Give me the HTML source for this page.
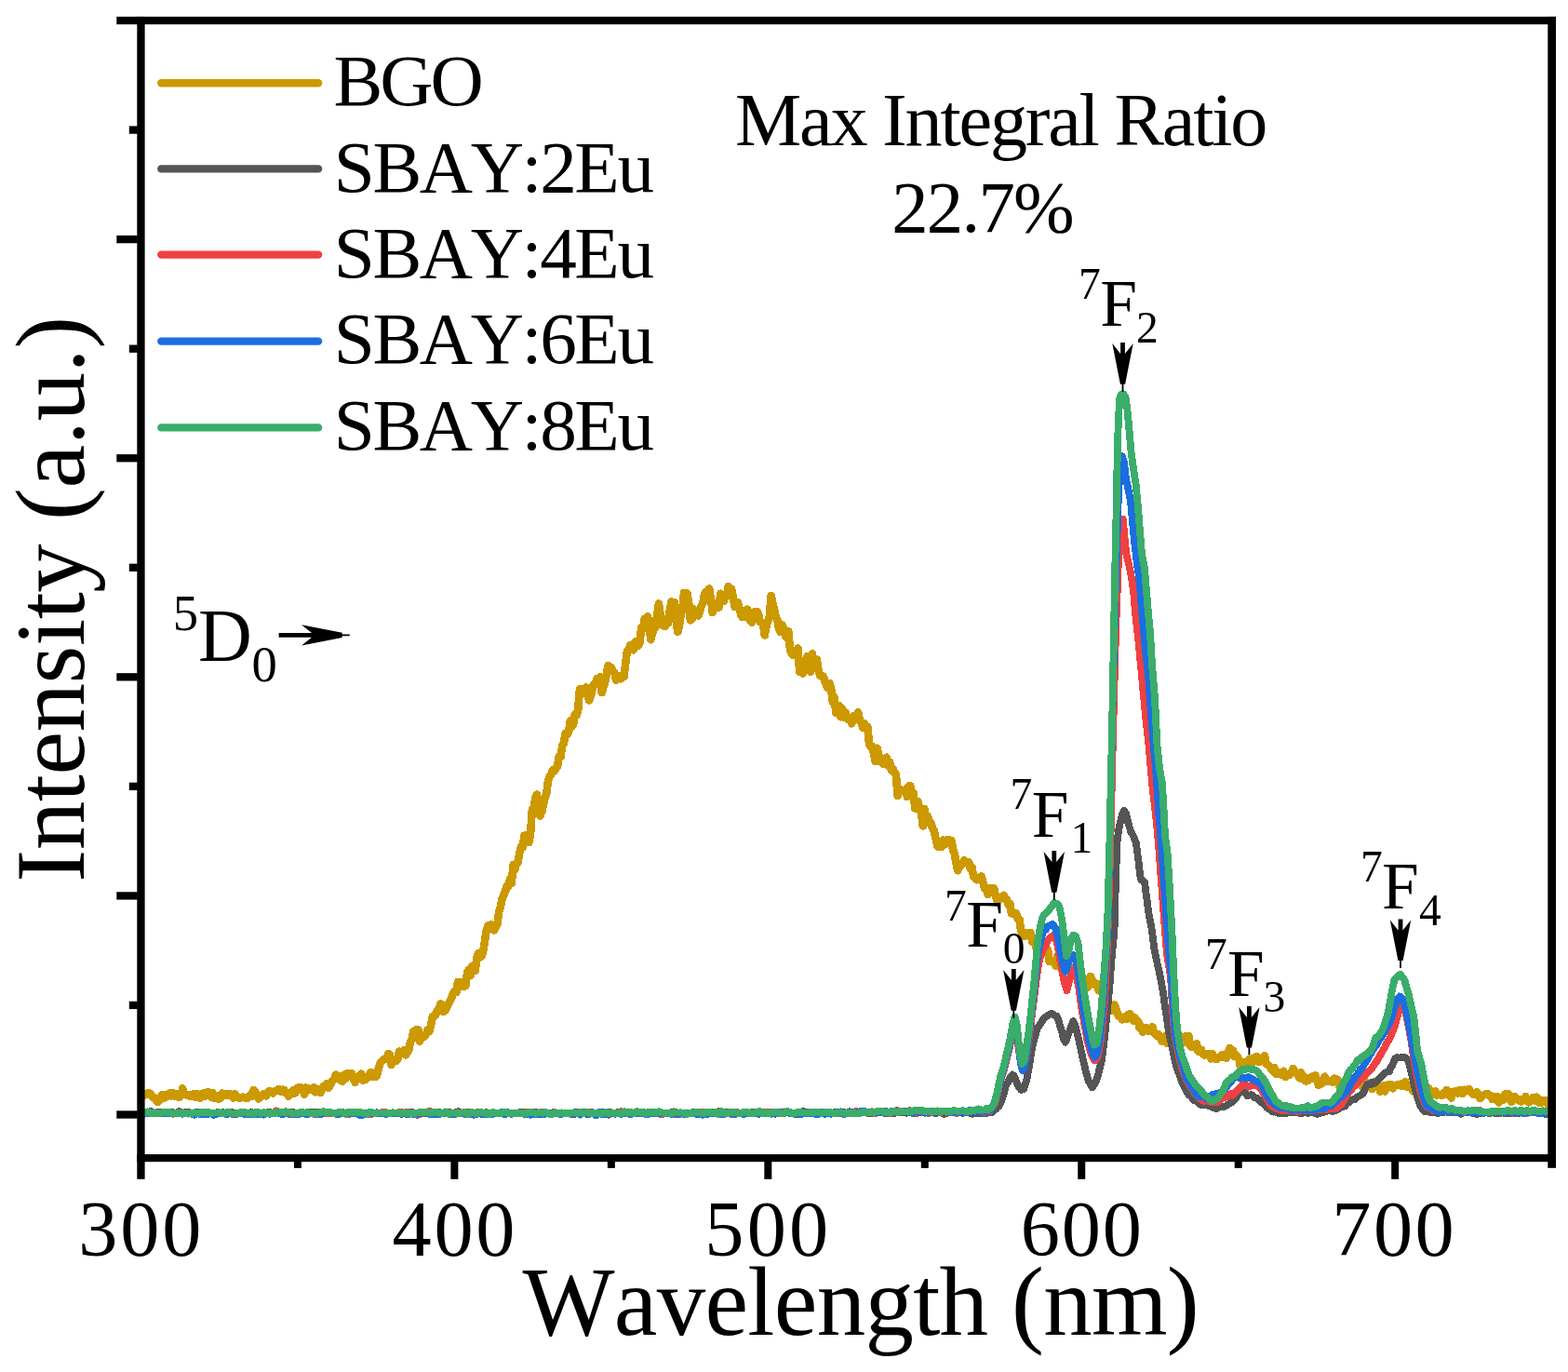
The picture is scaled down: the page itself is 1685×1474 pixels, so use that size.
<!DOCTYPE html>
<html><head><meta charset="utf-8"><title>Emission spectra</title><style>html,body{margin:0;padding:0;background:#fff;width:1685px;height:1474px;overflow:hidden;}svg{display:block;}</style></head><body>
<svg width="1685" height="1474" viewBox="0 0 1685 1474">
<rect width="1685" height="1474" fill="#fff"/>
<g>
<path d="M152.0,1178.0 L153.7,1177.5 L155.4,1176.0 L157.1,1175.5 L158.8,1174.2 L160.5,1174.4 L162.2,1175.7 L163.9,1178.8 L165.6,1178.9 L167.3,1180.7 L169.0,1183.9 L170.7,1183.2 L172.4,1180.2 L174.1,1175.9 L175.8,1179.8 L177.5,1178.9 L179.2,1175.8 L180.9,1177.5 L182.6,1174.3 L184.3,1177.3 L186.0,1174.2 L187.7,1177.9 L189.4,1175.0 L191.1,1178.0 L192.8,1179.1 L194.5,1177.4 L196.2,1169.4 L197.9,1174.5 L199.6,1175.7 L201.3,1176.8 L203.0,1175.9 L204.7,1178.2 L206.4,1175.9 L208.1,1175.3 L209.8,1178.8 L211.5,1175.1 L213.2,1175.7 L214.9,1179.7 L216.6,1176.1 L218.3,1174.5 L220.0,1177.9 L221.7,1176.4 L223.4,1172.9 L225.1,1176.4 L226.8,1178.7 L228.5,1174.1 L230.2,1180.0 L231.9,1179.4 L233.6,1177.5 L235.3,1180.8 L237.0,1179.2 L238.7,1174.6 L240.4,1175.8 L242.1,1176.9 L243.8,1175.0 L245.5,1176.8 L247.2,1175.2 L248.9,1176.8 L250.6,1179.5 L252.3,1175.3 L254.0,1178.7 L255.7,1179.2 L257.4,1179.8 L259.1,1179.3 L260.8,1178.6 L262.5,1178.9 L264.2,1180.1 L265.9,1180.1 L267.6,1177.8 L269.3,1175.7 L271.0,1177.9 L272.7,1171.0 L274.4,1173.0 L276.1,1176.8 L277.8,1180.5 L279.5,1179.0 L281.2,1176.6 L282.9,1175.5 L284.6,1176.9 L286.3,1177.3 L288.0,1173.1 L289.7,1172.1 L291.4,1173.2 L293.1,1174.4 L294.8,1172.4 L296.5,1171.9 L298.2,1171.9 L299.9,1170.0 L301.6,1172.5 L303.3,1170.7 L305.0,1170.8 L306.7,1174.3 L308.4,1173.7 L310.1,1177.7 L311.8,1174.7 L313.5,1174.5 L315.2,1171.1 L316.9,1174.5 L318.6,1169.5 L320.3,1168.4 L322.0,1171.0 L323.7,1168.4 L325.4,1169.8 L327.1,1175.6 L328.8,1168.5 L330.5,1169.1 L332.2,1170.8 L333.9,1170.4 L335.6,1169.6 L337.3,1168.2 L339.0,1173.3 L340.7,1172.7 L342.4,1170.6 L344.1,1174.1 L345.8,1170.8 L347.5,1167.2 L349.2,1168.2 L350.9,1164.3 L352.6,1168.7 L354.3,1166.7 L356.0,1163.2 L357.7,1160.8 L359.4,1158.6 L361.1,1154.6 L362.8,1157.3 L364.5,1159.5 L366.2,1155.8 L367.9,1161.9 L369.6,1154.7 L371.3,1158.8 L373.0,1153.7 L374.7,1154.2 L376.4,1153.1 L378.1,1153.2 L379.8,1159.3 L381.5,1162.8 L383.2,1158.6 L384.9,1156.1 L386.6,1156.9 L388.3,1153.7 L390.0,1160.6 L391.7,1158.2 L393.4,1159.5 L395.1,1157.5 L396.8,1155.5 L398.5,1152.0 L400.2,1156.9 L401.9,1153.9 L403.6,1156.9 L405.3,1154.7 L407.0,1147.0 L408.7,1142.1 L410.4,1140.1 L412.1,1138.0 L413.8,1138.2 L415.5,1138.1 L417.2,1131.9 L418.9,1133.7 L420.6,1143.8 L422.3,1139.4 L424.0,1138.2 L425.7,1139.7 L427.4,1137.8 L429.1,1129.6 L430.8,1132.3 L432.5,1130.5 L434.2,1128.4 L435.9,1133.4 L437.6,1130.7 L439.3,1127.9 L441.0,1119.1 L442.7,1116.6 L444.4,1107.8 L446.1,1109.0 L447.8,1106.1 L449.5,1106.5 L451.2,1118.7 L452.9,1113.6 L454.6,1114.4 L456.3,1113.4 L458.0,1110.4 L459.7,1106.2 L461.4,1108.2 L463.1,1100.9 L464.8,1092.2 L466.5,1091.6 L468.2,1089.9 L469.9,1085.2 L471.6,1085.1 L473.3,1078.4 L475.0,1079.1 L476.7,1087.0 L478.4,1085.7 L480.1,1082.8 L481.8,1078.5 L483.5,1075.8 L485.2,1072.0 L486.9,1067.7 L488.6,1064.6 L490.3,1066.2 L492.0,1055.0 L493.7,1059.8 L495.4,1056.0 L497.1,1054.9 L498.8,1060.0 L500.5,1058.6 L502.2,1044.4 L503.9,1041.7 L505.6,1048.3 L507.3,1037.8 L509.0,1042.6 L510.7,1043.2 L512.4,1028.6 L514.1,1023.9 L515.8,1028.5 L517.5,1027.2 L519.2,1022.1 L520.9,1012.0 L522.6,1000.5 L524.3,994.5 L526.0,996.8 L527.7,993.4 L529.4,993.8 L531.1,999.4 L532.8,995.3 L534.5,992.2 L536.2,979.9 L537.9,974.4 L539.6,965.8 L541.3,961.5 L543.0,957.7 L544.7,951.8 L546.4,951.9 L548.1,944.8 L549.8,948.9 L551.5,929.0 L553.2,934.5 L554.9,927.3 L556.6,926.6 L558.3,916.0 L560.0,909.8 L561.7,910.4 L563.4,897.8 L565.1,897.6 L566.8,900.4 L568.5,905.0 L570.2,893.7 L571.9,869.4 L573.6,867.6 L575.3,857.0 L577.0,853.6 L578.7,868.0 L580.4,876.5 L582.1,872.6 L583.8,865.2 L585.5,856.8 L587.2,852.5 L588.9,839.6 L590.6,834.6 L592.3,832.2 L594.0,827.3 L595.7,828.5 L597.4,825.2 L599.1,823.4 L600.8,812.4 L602.5,813.2 L604.2,801.2 L605.9,798.2 L607.6,788.2 L609.3,789.6 L611.0,786.8 L612.7,774.4 L614.4,780.6 L616.1,778.6 L617.8,767.4 L619.5,768.7 L621.2,762.6 L622.9,740.5 L624.6,746.2 L626.3,740.0 L628.0,740.4 L629.7,738.4 L631.4,746.2 L633.1,752.4 L634.8,748.1 L636.5,740.1 L638.2,735.0 L639.9,734.2 L641.6,729.1 L643.3,732.2 L645.0,727.1 L646.7,744.2 L648.4,738.2 L650.1,733.4 L651.8,724.1 L653.5,715.0 L655.2,718.3 L656.9,717.4 L658.6,721.5 L660.3,722.4 L662.0,730.6 L663.7,727.8 L665.4,726.3 L667.1,729.4 L668.8,726.3 L670.5,727.1 L672.2,712.9 L673.9,699.2 L675.6,697.9 L677.3,693.3 L679.0,695.0 L680.7,698.3 L682.4,689.6 L684.1,691.5 L685.8,693.8 L687.5,691.0 L689.2,674.1 L690.9,675.7 L692.6,665.1 L694.3,670.0 L696.0,662.2 L697.7,673.0 L699.4,687.3 L701.1,680.1 L702.8,676.2 L704.5,673.8 L706.2,660.4 L707.9,648.5 L709.6,660.2 L711.3,671.6 L713.0,664.5 L714.7,673.2 L716.4,669.3 L718.1,669.0 L719.8,655.8 L721.5,646.4 L723.2,651.8 L724.9,646.9 L726.6,667.6 L728.3,678.9 L730.0,672.4 L731.7,660.5 L733.4,653.7 L735.1,636.9 L736.8,636.8 L738.5,637.6 L740.2,648.4 L741.9,666.3 L743.6,665.1 L745.3,654.3 L747.0,660.4 L748.7,661.0 L750.4,661.5 L752.1,656.6 L753.8,650.8 L755.5,647.2 L757.2,637.7 L758.9,636.0 L760.6,635.0 L762.3,632.4 L764.0,644.5 L765.7,658.0 L767.4,653.5 L769.1,651.5 L770.8,648.0 L772.5,652.6 L774.2,637.8 L775.9,641.7 L777.6,645.8 L779.3,641.9 L781.0,640.9 L782.7,629.8 L784.4,631.8 L786.1,633.0 L787.8,641.3 L789.5,651.9 L791.2,649.2 L792.9,647.4 L794.6,653.9 L796.3,660.7 L798.0,663.1 L799.7,658.5 L801.4,656.9 L803.1,654.6 L804.8,664.0 L806.5,667.3 L808.2,668.6 L809.9,657.7 L811.6,659.5 L813.3,656.9 L815.0,659.5 L816.7,668.2 L818.4,668.5 L820.1,670.2 L821.8,682.3 L823.5,672.5 L825.2,667.0 L826.9,662.5 L828.6,640.0 L830.3,647.7 L832.0,654.5 L833.7,663.1 L835.4,666.5 L837.1,675.7 L838.8,679.0 L840.5,671.4 L842.2,674.5 L843.9,683.4 L845.6,685.1 L847.3,678.3 L849.0,698.4 L850.7,702.1 L852.4,703.8 L854.1,700.6 L855.8,701.5 L857.5,696.5 L859.2,721.7 L860.9,710.1 L862.6,723.5 L864.3,709.4 L866.0,714.3 L867.7,704.8 L869.4,710.6 L871.1,721.6 L872.8,702.5 L874.5,713.3 L876.2,709.9 L877.9,708.7 L879.6,720.6 L881.3,725.8 L883.0,726.3 L884.7,726.5 L886.4,731.7 L888.1,736.5 L889.8,739.3 L891.5,733.9 L893.2,740.6 L894.9,754.5 L896.6,749.1 L898.3,765.8 L900.0,765.1 L901.7,757.8 L903.4,770.3 L905.1,761.0 L906.8,770.5 L908.5,765.6 L910.2,771.2 L911.9,773.5 L913.6,773.3 L915.3,777.3 L917.0,769.5 L918.7,772.9 L920.4,768.7 L922.1,765.2 L923.8,772.9 L925.5,776.3 L927.2,781.6 L928.9,777.3 L930.6,783.3 L932.3,780.7 L934.0,799.0 L935.7,802.3 L937.4,802.1 L939.1,809.9 L940.8,818.2 L942.5,803.8 L944.2,809.9 L945.9,818.4 L947.6,815.2 L949.3,820.7 L951.0,814.9 L952.7,813.7 L954.4,822.5 L956.1,818.7 L957.8,827.6 L959.5,825.9 L961.2,829.6 L962.9,832.6 L964.6,855.0 L966.3,849.2 L968.0,848.2 L969.7,849.2 L971.4,850.5 L973.1,848.4 L974.8,855.9 L976.5,844.7 L978.2,844.1 L979.9,852.1 L981.6,851.9 L983.3,868.5 L985.0,866.9 L986.7,861.2 L988.4,870.3 L990.1,874.2 L991.8,887.4 L993.5,869.2 L995.2,884.2 L996.9,876.7 L998.6,881.6 L1000.3,884.1 L1002.0,889.5 L1003.7,892.3 L1005.4,899.9 L1007.1,908.3 L1008.8,910.1 L1010.5,907.0 L1012.2,909.5 L1013.9,902.5 L1015.6,907.2 L1017.3,903.2 L1019.0,901.9 L1020.7,906.8 L1022.4,903.1 L1024.1,912.9 L1025.8,917.5 L1027.5,927.4 L1029.2,935.3 L1030.9,928.8 L1032.6,930.1 L1034.3,928.2 L1036.0,924.0 L1037.7,927.0 L1039.4,926.5 L1041.1,926.3 L1042.8,933.3 L1044.5,931.9 L1046.2,941.9 L1047.9,942.0 L1049.6,945.3 L1051.3,944.2 L1053.0,942.5 L1054.7,941.6 L1056.4,947.9 L1058.1,954.5 L1059.8,953.8 L1061.5,961.0 L1063.2,955.4 L1064.9,954.0 L1066.6,957.3 L1068.3,954.5 L1070.0,963.4 L1071.7,967.5 L1073.4,965.7 L1075.1,965.5 L1076.8,963.9 L1078.5,961.8 L1080.2,964.7 L1081.9,966.2 L1083.6,972.1 L1085.3,970.6 L1087.0,981.4 L1088.7,980.7 L1090.4,982.1 L1092.1,981.2 L1093.8,987.2 L1095.5,987.6 L1097.2,1000.2 L1098.9,1002.6 L1100.6,1006.2 L1102.3,1002.5 L1104.0,1002.3 L1105.7,1005.1 L1107.4,1002.2 L1109.1,1011.3 L1110.8,1012.7 L1112.5,1008.3 L1114.2,1022.6 L1115.9,1021.4 L1117.6,1020.0 L1119.3,1018.5 L1121.0,1012.7 L1122.7,1023.9 L1124.4,1022.1 L1126.1,1020.7 L1127.8,1033.1 L1129.5,1031.8 L1131.2,1032.2 L1132.9,1034.0 L1134.6,1037.8 L1136.3,1027.2 L1138.0,1034.0 L1139.7,1037.6 L1141.4,1042.4 L1143.1,1040.0 L1144.8,1036.2 L1146.5,1034.9 L1148.2,1035.9 L1149.9,1039.7 L1151.6,1043.7 L1153.3,1045.4 L1155.0,1049.0 L1156.7,1043.6 L1158.4,1046.0 L1160.1,1048.2 L1161.8,1051.6 L1163.5,1060.4 L1165.2,1060.5 L1166.9,1059.7 L1168.6,1061.1 L1170.3,1052.3 L1172.0,1048.9 L1173.7,1055.7 L1175.4,1054.9 L1177.1,1058.4 L1178.8,1056.7 L1180.5,1063.6 L1182.2,1065.1 L1183.9,1064.8 L1185.6,1063.9 L1187.3,1072.9 L1189.0,1081.4 L1190.7,1084.5 L1192.4,1082.5 L1194.1,1084.1 L1195.8,1085.7 L1197.5,1079.3 L1199.2,1083.7 L1200.9,1089.0 L1202.6,1092.1 L1204.3,1092.5 L1206.0,1095.3 L1207.7,1094.4 L1209.4,1092.0 L1211.1,1094.8 L1212.8,1089.7 L1214.5,1089.4 L1216.2,1093.5 L1217.9,1096.8 L1219.6,1093.5 L1221.3,1096.6 L1223.0,1097.0 L1224.7,1104.6 L1226.4,1103.2 L1228.1,1108.8 L1229.8,1104.5 L1231.5,1104.4 L1233.2,1104.5 L1234.9,1107.9 L1236.6,1107.7 L1238.3,1103.1 L1240.0,1109.6 L1241.7,1110.7 L1243.4,1113.2 L1245.1,1111.2 L1246.8,1114.3 L1248.5,1118.5 L1250.2,1115.8 L1251.9,1113.5 L1253.6,1120.6 L1255.3,1115.3 L1257.0,1120.6 L1258.7,1115.7 L1260.4,1113.4 L1262.1,1119.3 L1263.8,1116.5 L1265.5,1121.8 L1267.2,1119.8 L1268.9,1115.6 L1270.6,1119.8 L1272.3,1113.8 L1274.0,1119.4 L1275.7,1112.9 L1277.4,1113.1 L1279.1,1123.9 L1280.8,1125.1 L1282.5,1124.7 L1284.2,1122.7 L1285.9,1121.3 L1287.6,1129.5 L1289.3,1130.1 L1291.0,1127.9 L1292.7,1132.1 L1294.4,1133.4 L1296.1,1131.9 L1297.8,1131.9 L1299.5,1133.3 L1301.2,1137.3 L1302.9,1132.0 L1304.6,1136.8 L1306.3,1137.9 L1308.0,1137.7 L1309.7,1135.6 L1311.4,1136.0 L1313.1,1133.2 L1314.8,1135.5 L1316.5,1132.9 L1318.2,1136.7 L1319.9,1129.9 L1321.6,1126.0 L1323.3,1129.0 L1325.0,1128.9 L1326.7,1134.9 L1328.4,1133.5 L1330.1,1135.7 L1331.8,1139.0 L1333.5,1149.6 L1335.2,1145.4 L1336.9,1141.6 L1338.6,1144.9 L1340.3,1146.1 L1342.0,1138.4 L1343.7,1138.8 L1345.4,1141.6 L1347.1,1136.6 L1348.8,1138.2 L1350.5,1134.9 L1352.2,1140.8 L1353.9,1141.0 L1355.6,1138.3 L1357.3,1139.3 L1359.0,1134.2 L1360.7,1142.9 L1362.4,1143.9 L1364.1,1145.8 L1365.8,1147.8 L1367.5,1150.4 L1369.2,1146.9 L1370.9,1153.7 L1372.6,1153.4 L1374.3,1152.6 L1376.0,1153.0 L1377.7,1155.0 L1379.4,1150.8 L1381.1,1157.0 L1382.8,1154.4 L1384.5,1155.1 L1386.2,1154.6 L1387.9,1152.1 L1389.6,1148.1 L1391.3,1152.2 L1393.0,1152.0 L1394.7,1155.1 L1396.4,1158.3 L1398.1,1152.4 L1399.8,1159.3 L1401.5,1157.2 L1403.2,1161.5 L1404.9,1160.8 L1406.6,1160.3 L1408.3,1157.7 L1410.0,1156.8 L1411.7,1158.7 L1413.4,1155.4 L1415.1,1160.3 L1416.8,1165.8 L1418.5,1164.5 L1420.2,1164.4 L1421.9,1162.1 L1423.6,1156.7 L1425.3,1161.6 L1427.0,1160.8 L1428.7,1161.7 L1430.4,1161.8 L1432.1,1162.7 L1433.8,1158.7 L1435.5,1161.0 L1437.2,1159.7 L1438.9,1164.7 L1440.6,1171.3 L1442.3,1167.1 L1444.0,1167.0 L1445.7,1167.1 L1447.4,1165.6 L1449.1,1159.8 L1450.8,1161.6 L1452.5,1163.3 L1454.2,1161.2 L1455.9,1162.4 L1457.6,1165.5 L1459.3,1160.6 L1461.0,1164.9 L1462.7,1162.5 L1464.4,1168.2 L1466.1,1159.9 L1467.8,1162.2 L1469.5,1163.5 L1471.2,1166.2 L1472.9,1167.6 L1474.6,1170.1 L1476.3,1162.7 L1478.0,1168.0 L1479.7,1167.9 L1481.4,1166.9 L1483.1,1172.6 L1484.8,1170.8 L1486.5,1166.5 L1488.2,1172.5 L1489.9,1166.6 L1491.6,1165.4 L1493.3,1166.7 L1495.0,1165.2 L1496.7,1169.4 L1498.4,1167.0 L1500.1,1165.8 L1501.8,1165.5 L1503.5,1166.1 L1505.2,1164.5 L1506.9,1167.2 L1508.6,1166.9 L1510.3,1162.1 L1512.0,1168.0 L1513.7,1165.9 L1515.4,1167.4 L1517.1,1169.0 L1518.8,1172.5 L1520.5,1171.3 L1522.2,1173.0 L1523.9,1169.6 L1525.6,1169.5 L1527.3,1168.5 L1529.0,1167.0 L1530.7,1170.4 L1532.4,1169.0 L1534.1,1172.9 L1535.8,1169.5 L1537.5,1177.0 L1539.2,1176.0 L1540.9,1173.1 L1542.6,1172.5 L1544.3,1176.7 L1546.0,1175.9 L1547.7,1176.2 L1549.4,1176.8 L1551.1,1174.1 L1552.8,1175.8 L1554.5,1171.2 L1556.2,1173.5 L1557.9,1174.2 L1559.6,1179.5 L1561.3,1172.9 L1563.0,1173.6 L1564.7,1171.9 L1566.4,1174.6 L1568.1,1171.0 L1569.8,1171.4 L1571.5,1175.1 L1573.2,1170.7 L1574.9,1170.9 L1576.6,1172.2 L1578.3,1169.9 L1580.0,1172.0 L1581.7,1174.3 L1583.4,1176.1 L1585.1,1175.5 L1586.8,1173.4 L1588.5,1174.7 L1590.2,1180.2 L1591.9,1178.0 L1593.6,1177.0 L1595.3,1175.8 L1597.0,1175.3 L1598.7,1175.2 L1600.4,1176.8 L1602.1,1177.1 L1603.8,1181.0 L1605.5,1178.5 L1607.2,1179.8 L1608.9,1178.2 L1610.6,1184.4 L1612.3,1179.1 L1614.0,1178.6 L1615.7,1181.6 L1617.4,1175.3 L1619.1,1174.9 L1620.8,1175.3 L1622.5,1180.4 L1624.2,1183.9 L1625.9,1178.8 L1627.6,1178.0 L1629.3,1180.6 L1631.0,1181.8 L1632.7,1181.5 L1634.4,1183.6 L1636.1,1181.3 L1637.8,1181.3 L1639.5,1178.2 L1641.2,1183.0 L1642.9,1184.3 L1644.6,1181.2 L1646.3,1180.8 L1648.0,1178.8 L1649.7,1182.5 L1651.4,1178.7 L1653.1,1182.2 L1654.8,1185.2 L1656.5,1184.0 L1658.2,1182.3 L1659.9,1183.7 L1661.6,1182.6 L1663.3,1186.4 L1665.0,1185.2 L1666.7,1182.6" fill="none" stroke="#CC9900" stroke-width="8.6" stroke-linejoin="round" stroke-linecap="butt" shape-rendering="crispEdges"/>
<path d="M152.0,1194.9 L155.4,1196.3 L158.7,1194.9 L162.1,1194.1 L165.5,1196.3 L168.8,1195.1 L172.2,1195.4 L175.6,1194.6 L179.0,1194.7 L182.3,1194.8 L185.7,1195.3 L189.1,1195.9 L192.4,1194.0 L195.8,1196.1 L199.2,1194.8 L202.5,1194.9 L205.9,1196.1 L209.3,1195.5 L212.6,1194.5 L216.0,1196.9 L219.4,1195.0 L222.7,1195.8 L226.1,1195.7 L229.5,1196.6 L232.9,1195.3 L236.2,1196.3 L239.6,1195.1 L243.0,1196.4 L246.3,1195.1 L249.7,1195.3 L253.1,1196.9 L256.4,1195.8 L259.8,1195.7 L263.2,1197.2 L266.5,1195.9 L269.9,1195.0 L273.3,1196.1 L276.7,1194.8 L280.0,1196.4 L283.4,1196.4 L286.8,1195.2 L290.1,1195.2 L293.5,1195.7 L296.9,1195.6 L300.2,1194.9 L303.6,1196.0 L307.0,1194.2 L310.3,1195.3 L313.7,1195.3 L317.1,1195.4 L320.4,1195.8 L323.8,1194.7 L327.2,1196.0 L330.6,1195.5 L333.9,1195.1 L337.3,1194.6 L340.7,1194.8 L344.0,1195.9 L347.4,1194.9 L350.8,1195.6 L354.1,1196.3 L357.5,1196.3 L360.9,1196.7 L364.2,1195.4 L367.6,1194.8 L371.0,1196.3 L374.4,1195.8 L377.7,1196.4 L381.1,1195.6 L384.5,1196.4 L387.8,1196.2 L391.2,1196.1 L394.6,1196.0 L397.9,1195.9 L401.3,1195.8 L404.7,1195.8 L408.0,1196.3 L411.4,1195.2 L414.8,1196.8 L418.2,1195.5 L421.5,1196.3 L424.9,1195.5 L428.3,1195.4 L431.6,1197.0 L435.0,1195.4 L438.4,1194.7 L441.7,1195.1 L445.1,1195.4 L448.5,1197.1 L451.8,1195.7 L455.2,1196.3 L458.6,1194.9 L461.9,1195.8 L465.3,1196.1 L468.7,1196.9 L472.1,1195.1 L475.4,1196.0 L478.8,1195.8 L482.2,1194.9 L485.5,1195.6 L488.9,1195.4 L492.3,1194.0 L495.6,1196.0 L500.0,1196.0 L502.4,1195.3 L505.7,1194.7 L509.1,1196.6 L512.5,1195.8 L515.9,1196.3 L519.2,1196.6 L522.6,1195.2 L526.0,1196.2 L529.3,1195.4 L532.7,1195.6 L536.1,1195.5 L539.4,1195.6 L542.8,1196.4 L546.2,1195.7 L549.5,1195.5 L552.9,1195.4 L556.3,1195.8 L559.6,1195.0 L563.0,1195.2 L566.4,1195.5 L569.8,1195.2 L573.1,1195.5 L576.5,1195.2 L579.9,1197.0 L583.2,1196.5 L586.6,1195.9 L590.0,1195.5 L593.3,1197.1 L596.7,1195.8 L600.1,1195.5 L603.4,1195.8 L606.8,1195.8 L610.2,1196.6 L613.6,1195.5 L616.9,1197.0 L620.3,1194.9 L623.7,1196.0 L627.0,1194.9 L630.4,1196.8 L633.8,1195.3 L637.1,1195.5 L640.5,1196.2 L643.9,1196.4 L647.2,1194.8 L650.6,1195.3 L654.0,1194.6 L657.3,1195.6 L660.7,1195.5 L664.1,1195.3 L667.5,1195.0 L670.8,1195.3 L674.2,1195.0 L677.6,1195.9 L680.9,1196.6 L684.3,1194.2 L687.7,1195.4 L691.0,1195.2 L694.4,1195.8 L697.8,1194.8 L701.1,1195.4 L704.5,1194.8 L707.9,1196.0 L711.3,1195.6 L714.6,1195.4 L718.0,1195.7 L721.4,1195.3 L724.7,1194.4 L728.1,1195.9 L731.5,1195.7 L734.8,1195.4 L738.2,1196.2 L741.6,1196.3 L744.9,1194.7 L748.3,1194.9 L751.7,1196.5 L755.1,1196.5 L758.4,1194.9 L761.8,1194.6 L765.2,1195.0 L768.5,1195.1 L771.9,1194.3 L775.3,1195.5 L778.6,1194.5 L782.0,1194.6 L785.4,1196.1 L788.7,1195.0 L792.1,1195.4 L795.5,1195.9 L798.8,1196.0 L802.2,1195.2 L805.6,1195.5 L809.0,1194.8 L812.3,1196.6 L815.7,1195.9 L819.1,1194.6 L822.4,1195.4 L825.8,1195.9 L829.2,1195.8 L832.5,1196.7 L835.9,1196.4 L839.3,1195.0 L842.6,1195.3 L846.0,1194.5 L849.4,1195.6 L852.8,1195.5 L856.1,1197.3 L859.5,1195.5 L862.9,1193.9 L866.2,1194.9 L869.6,1195.5 L873.0,1194.5 L876.3,1194.8 L879.7,1195.1 L883.1,1195.6 L886.4,1195.3 L889.8,1194.8 L893.2,1196.0 L896.5,1195.0 L900.0,1195.1 L903.3,1194.4 L906.7,1194.9 L910.0,1195.9 L913.4,1194.3 L916.8,1195.4 L920.1,1195.9 L923.5,1195.1 L926.9,1195.6 L930.2,1194.6 L933.6,1196.3 L937.0,1196.2 L940.3,1195.6 L943.7,1194.2 L947.1,1194.7 L950.5,1196.1 L953.8,1196.6 L957.2,1195.6 L960.6,1196.3 L963.9,1195.0 L967.3,1195.3 L970.7,1195.4 L974.0,1195.7 L977.4,1194.4 L980.8,1196.1 L984.1,1196.4 L987.5,1194.7 L990.9,1194.5 L994.2,1195.7 L997.6,1195.0 L1001.0,1193.8 L1004.4,1196.0 L1007.7,1195.6 L1011.1,1195.1 L1014.5,1197.0 L1017.8,1195.6 L1021.2,1195.0 L1024.6,1195.6 L1027.9,1194.8 L1031.3,1195.0 L1034.7,1195.8 L1038.0,1195.1 L1041.4,1195.2 L1044.8,1196.7 L1048.2,1196.1 L1051.5,1196.1 L1054.9,1195.9 L1058.3,1195.8 L1060.0,1196.5 L1061.6,1195.3 L1066.0,1195.3 L1068.4,1192.3 L1070.0,1191.8 L1071.7,1189.5 L1073.0,1188.8 L1076.0,1183.4 L1078.5,1176.0 L1081.0,1166.5 L1083.5,1162.0 L1086.0,1156.7 L1088.0,1154.5 L1090.0,1156.2 L1092.5,1163.0 L1095.0,1167.8 L1097.5,1171.1 L1100.0,1170.0 L1103.0,1161.5 L1106.0,1145.3 L1109.0,1126.0 L1112.0,1114.3 L1115.0,1104.1 L1118.0,1100.1 L1121.5,1094.4 L1126.0,1090.7 L1130.0,1088.7 L1132.4,1090.4 L1134.0,1091.2 L1135.7,1091.6 L1137.0,1094.8 L1139.1,1102.2 L1141.0,1108.2 L1142.5,1115.0 L1145.0,1119.6 L1149.0,1108.4 L1153.3,1097.1 L1156.0,1103.5 L1158.7,1114.5 L1162.8,1133.5 L1167.0,1151.9 L1170.0,1161.9 L1173.7,1168.3 L1177.0,1163.8 L1180.0,1155.0 L1182.0,1146.4 L1184.0,1139.1 L1187.0,1115.0 L1190.0,1085.7 L1192.5,1058.4 L1195.0,1024.8 L1197.5,1000.1 L1199.0,945.0 L1200.5,904.4 L1202.0,892.8 L1204.0,883.0 L1206.0,874.8 L1208.0,870.7 L1210.0,873.9 L1212.5,884.5 L1215.0,892.8 L1216.6,896.0 L1218.0,898.5 L1221.0,906.2 L1223.5,925.7 L1225.5,942.6 L1226.7,945.4 L1230.0,947.9 L1234.6,982.5 L1237.5,997.1 L1240.3,1018.7 L1243.6,1035.0 L1246.7,1048.5 L1250.3,1068.6 L1252.0,1082.0 L1253.7,1092.3 L1256.0,1108.7 L1259.0,1122.7 L1260.4,1128.0 L1263.0,1141.6 L1266.0,1150.8 L1270.0,1162.2 L1275.0,1172.5 L1277.2,1176.0 L1280.6,1178.4 L1282.7,1182.1 L1284.0,1181.4 L1287.4,1184.8 L1290.0,1186.8 L1294.1,1187.6 L1296.0,1186.8 L1297.5,1187.4 L1300.8,1188.8 L1304.2,1190.1 L1307.0,1191.3 L1310.9,1189.2 L1315.0,1189.3 L1317.7,1188.0 L1320.0,1186.4 L1325.5,1182.9 L1327.8,1180.6 L1330.0,1176.3 L1334.6,1171.1 L1337.9,1173.6 L1340.6,1177.3 L1344.6,1176.0 L1348.7,1179.5 L1351.4,1180.2 L1355.8,1184.4 L1358.1,1186.4 L1360.0,1187.7 L1361.5,1190.1 L1365.8,1193.0 L1368.2,1194.7 L1371.6,1194.1 L1374.0,1196.5 L1378.3,1196.1 L1381.0,1195.8 L1385.1,1195.5 L1388.4,1195.4 L1391.8,1195.2 L1395.2,1195.6 L1398.5,1196.0 L1400.0,1195.9 L1401.9,1195.0 L1405.3,1195.8 L1408.6,1195.2 L1412.0,1195.8 L1415.4,1196.9 L1418.7,1195.8 L1422.1,1194.9 L1424.0,1193.9 L1425.5,1193.8 L1430.0,1192.8 L1432.2,1194.2 L1436.0,1192.5 L1439.0,1191.4 L1441.0,1189.6 L1442.3,1189.3 L1445.7,1188.3 L1447.0,1186.0 L1449.1,1184.7 L1453.0,1181.4 L1455.8,1181.1 L1459.0,1178.3 L1462.5,1176.6 L1464.6,1175.0 L1465.9,1172.2 L1469.0,1165.3 L1472.6,1165.5 L1474.0,1162.8 L1476.0,1163.9 L1478.0,1163.2 L1479.4,1161.5 L1482.8,1158.3 L1485.0,1155.8 L1490.0,1151.5 L1492.9,1151.2 L1494.6,1146.7 L1496.2,1144.6 L1498.0,1140.2 L1499.6,1136.8 L1501.0,1136.1 L1503.0,1136.6 L1506.0,1136.1 L1510.0,1136.3 L1513.5,1139.5 L1517.0,1153.6 L1519.8,1166.5 L1522.0,1174.6 L1526.5,1188.7 L1531.0,1194.2 L1533.3,1193.4 L1536.0,1194.9 L1540.0,1194.8 L1543.4,1195.1 L1545.0,1196.2 L1546.8,1194.9 L1550.1,1195.4 L1553.5,1194.2 L1556.9,1195.4 L1560.2,1195.6 L1563.6,1195.0 L1567.0,1195.0 L1570.3,1196.8 L1573.7,1194.7 L1577.1,1194.8 L1580.5,1194.9 L1583.8,1196.3 L1587.2,1197.0 L1590.6,1195.7 L1593.9,1195.0 L1597.3,1195.2 L1600.7,1196.2 L1604.0,1194.9 L1607.4,1196.5 L1610.8,1196.5 L1614.1,1195.5 L1617.5,1196.0 L1620.9,1196.0 L1624.3,1196.6 L1627.6,1194.8 L1631.0,1196.3 L1634.4,1195.2 L1637.7,1195.0 L1641.1,1195.6 L1644.5,1195.3 L1647.8,1194.8 L1651.2,1194.4 L1654.6,1194.8 L1657.9,1196.5 L1661.3,1196.9 L1664.7,1196.0 L1667.5,1196.3" fill="none" stroke="#555555" stroke-width="7.8" stroke-linejoin="round" stroke-linecap="butt" shape-rendering="crispEdges"/>
<path d="M152.0,1195.6 L155.4,1195.9 L158.7,1196.2 L162.1,1195.2 L165.5,1195.3 L168.8,1196.1 L172.2,1195.8 L175.6,1195.3 L179.0,1196.3 L182.3,1195.8 L185.7,1196.7 L189.1,1196.0 L192.4,1195.8 L195.8,1196.1 L199.2,1195.9 L202.5,1195.5 L205.9,1195.7 L209.3,1196.5 L212.6,1196.5 L216.0,1196.9 L219.4,1194.8 L222.7,1195.7 L226.1,1195.7 L229.5,1196.1 L232.9,1195.7 L236.2,1195.6 L239.6,1196.5 L243.0,1196.1 L246.3,1195.2 L249.7,1196.9 L253.1,1196.7 L256.4,1195.6 L259.8,1196.6 L263.2,1195.5 L266.5,1196.8 L269.9,1195.8 L273.3,1195.4 L276.7,1195.7 L280.0,1195.5 L283.4,1196.1 L286.8,1196.1 L290.1,1196.0 L293.5,1195.6 L296.9,1193.4 L300.2,1196.1 L303.6,1194.7 L307.0,1196.2 L310.3,1196.8 L313.7,1196.2 L317.1,1195.7 L320.4,1195.9 L323.8,1195.9 L327.2,1195.6 L330.6,1195.6 L333.9,1195.4 L337.3,1196.8 L340.7,1196.0 L344.0,1196.7 L347.4,1195.8 L350.8,1196.1 L354.1,1195.9 L357.5,1196.3 L360.9,1196.6 L364.2,1196.2 L367.6,1195.5 L371.0,1195.5 L374.4,1197.2 L377.7,1195.8 L381.1,1195.8 L384.5,1197.0 L387.8,1196.8 L391.2,1196.4 L394.6,1195.7 L397.9,1197.6 L401.3,1196.3 L404.7,1196.4 L408.0,1195.9 L411.4,1195.0 L414.8,1195.1 L418.2,1196.3 L421.5,1196.3 L424.9,1195.8 L428.3,1195.2 L431.6,1195.0 L435.0,1195.8 L438.4,1195.0 L441.7,1196.6 L445.1,1196.8 L448.5,1198.0 L451.8,1196.6 L455.2,1195.6 L458.6,1195.4 L461.9,1193.6 L465.3,1195.6 L468.7,1195.9 L472.1,1196.7 L475.4,1196.4 L478.8,1196.4 L482.2,1196.1 L485.5,1196.5 L488.9,1197.0 L492.3,1195.3 L495.6,1195.7 L500.0,1195.0 L502.4,1197.1 L505.7,1196.9 L509.1,1196.5 L512.5,1195.2 L515.9,1196.1 L519.2,1195.8 L522.6,1196.1 L526.0,1195.9 L529.3,1196.4 L532.7,1195.7 L536.1,1196.6 L539.4,1196.2 L542.8,1195.8 L546.2,1195.9 L549.5,1195.7 L552.9,1196.6 L556.3,1195.8 L559.6,1196.2 L563.0,1195.7 L566.4,1195.0 L569.8,1196.6 L573.1,1195.3 L576.5,1196.5 L579.9,1196.3 L583.2,1194.8 L586.6,1195.3 L590.0,1195.6 L593.3,1195.4 L596.7,1195.2 L600.1,1196.5 L603.4,1195.8 L606.8,1196.3 L610.2,1195.7 L613.6,1196.2 L616.9,1195.5 L620.3,1196.0 L623.7,1196.4 L627.0,1196.0 L630.4,1195.6 L633.8,1195.2 L637.1,1196.1 L640.5,1196.2 L643.9,1195.8 L647.2,1195.4 L650.6,1196.3 L654.0,1197.7 L657.3,1195.7 L660.7,1196.2 L664.1,1196.2 L667.5,1194.2 L670.8,1196.0 L674.2,1195.4 L677.6,1196.9 L680.9,1195.8 L684.3,1195.4 L687.7,1195.8 L691.0,1196.0 L694.4,1195.5 L697.8,1195.9 L701.1,1195.0 L704.5,1195.8 L707.9,1196.5 L711.3,1197.3 L714.6,1196.4 L718.0,1196.1 L721.4,1196.7 L724.7,1196.6 L728.1,1197.1 L731.5,1196.6 L734.8,1195.8 L738.2,1196.1 L741.6,1196.0 L744.9,1196.1 L748.3,1196.0 L751.7,1195.3 L755.1,1194.4 L758.4,1195.4 L761.8,1194.4 L765.2,1195.9 L768.5,1195.8 L771.9,1194.7 L775.3,1196.3 L778.6,1196.4 L782.0,1195.9 L785.4,1197.0 L788.7,1197.1 L792.1,1195.0 L795.5,1196.5 L798.8,1196.1 L802.2,1196.1 L805.6,1196.4 L809.0,1195.3 L812.3,1195.4 L815.7,1195.2 L819.1,1195.2 L822.4,1195.7 L825.8,1194.7 L829.2,1195.0 L832.5,1196.1 L835.9,1195.7 L839.3,1196.0 L842.6,1194.4 L846.0,1195.2 L849.4,1195.3 L852.8,1195.7 L856.1,1195.3 L859.5,1196.3 L862.9,1195.6 L866.2,1195.7 L869.6,1195.7 L873.0,1196.2 L876.3,1195.3 L879.7,1196.4 L883.1,1196.0 L886.4,1195.7 L889.8,1195.7 L893.2,1196.0 L896.5,1196.3 L900.0,1196.3 L903.3,1195.8 L906.7,1196.2 L910.0,1195.6 L913.4,1196.3 L916.8,1195.4 L920.1,1193.9 L923.5,1196.2 L926.9,1195.2 L930.2,1194.3 L933.6,1194.9 L937.0,1194.3 L940.3,1196.3 L943.7,1195.1 L947.1,1193.6 L950.5,1195.1 L953.8,1194.4 L957.2,1196.0 L960.0,1193.9 L963.9,1193.0 L967.3,1194.6 L970.7,1194.3 L974.0,1194.3 L977.4,1193.1 L980.8,1194.9 L984.1,1195.7 L987.5,1193.2 L990.9,1195.4 L994.2,1194.2 L997.6,1196.2 L1001.0,1194.9 L1004.4,1194.4 L1007.7,1195.3 L1011.1,1194.9 L1014.5,1194.1 L1017.8,1195.1 L1021.2,1194.2 L1024.6,1193.3 L1027.9,1196.0 L1031.3,1194.3 L1034.7,1194.1 L1038.0,1194.8 L1041.4,1193.4 L1044.8,1193.6 L1048.2,1194.2 L1051.5,1194.2 L1054.9,1194.6 L1058.3,1195.3 L1060.0,1194.2 L1061.6,1194.5 L1066.0,1191.4 L1069.0,1185.2 L1072.0,1175.2 L1075.0,1161.3 L1078.5,1150.7 L1082.0,1137.3 L1085.4,1123.0 L1088.2,1106.1 L1090.5,1101.1 L1092.5,1106.5 L1094.5,1125.5 L1097.0,1142.9 L1099.0,1147.4 L1101.0,1144.6 L1103.0,1135.5 L1105.0,1121.6 L1107.0,1106.8 L1109.0,1089.8 L1111.0,1073.8 L1114.0,1050.1 L1115.5,1039.3 L1117.0,1031.7 L1120.0,1021.9 L1122.3,1018.2 L1124.0,1015.0 L1125.6,1010.7 L1129.0,1007.1 L1133.0,1004.0 L1136.5,1015.3 L1140.0,1035.6 L1143.0,1052.2 L1146.5,1064.2 L1150.0,1050.2 L1153.5,1041.2 L1156.5,1046.9 L1159.5,1061.7 L1162.5,1084.8 L1165.5,1100.9 L1168.5,1117.7 L1171.5,1128.6 L1172.8,1132.6 L1174.5,1136.7 L1176.2,1139.4 L1177.5,1139.0 L1180.0,1134.7 L1182.5,1119.5 L1185.0,1097.8 L1186.3,1083.3 L1187.5,1065.3 L1190.0,1019.1 L1193.0,920.3 L1196.0,789.9 L1199.0,679.4 L1202.0,600.3 L1204.0,574.7 L1206.8,557.9 L1208.5,577.2 L1210.5,596.2 L1213.0,605.9 L1215.5,618.2 L1218.0,634.4 L1220.0,658.4 L1222.4,679.1 L1225.0,704.8 L1227.6,733.1 L1231.0,768.6 L1233.4,790.8 L1234.7,802.8 L1238.0,840.7 L1240.2,860.2 L1241.8,874.3 L1243.6,891.6 L1246.0,920.3 L1250.0,975.1 L1254.0,1025.6 L1258.0,1049.1 L1261.0,1100.1 L1264.5,1124.9 L1267.1,1135.8 L1268.5,1141.7 L1270.5,1148.3 L1274.0,1157.7 L1277.2,1165.1 L1281.0,1170.0 L1284.0,1175.0 L1288.0,1179.3 L1290.7,1181.0 L1294.1,1183.2 L1296.0,1182.2 L1297.5,1182.2 L1300.8,1184.0 L1304.0,1184.3 L1307.6,1184.6 L1312.0,1181.4 L1314.3,1179.3 L1318.0,1178.6 L1321.0,1176.1 L1322.5,1175.0 L1324.4,1176.8 L1327.8,1172.9 L1330.5,1171.0 L1335.6,1164.8 L1337.9,1166.5 L1339.5,1166.2 L1341.3,1167.7 L1343.6,1166.8 L1346.5,1165.0 L1348.0,1166.1 L1349.7,1165.4 L1351.4,1165.5 L1355.8,1171.2 L1358.1,1175.4 L1360.8,1180.1 L1365.8,1188.1 L1368.2,1189.4 L1372.0,1191.4 L1374.9,1192.0 L1378.3,1193.1 L1381.7,1193.2 L1385.0,1193.5 L1388.4,1192.2 L1391.8,1193.3 L1395.2,1194.5 L1398.5,1192.5 L1401.9,1192.7 L1405.3,1193.4 L1408.6,1193.3 L1412.0,1193.0 L1415.4,1191.3 L1418.7,1192.6 L1422.1,1191.3 L1424.0,1191.4 L1425.5,1192.2 L1428.9,1190.8 L1432.0,1190.6 L1435.6,1191.1 L1439.0,1188.0 L1441.5,1186.5 L1445.7,1179.4 L1447.0,1177.5 L1449.1,1174.4 L1453.0,1169.6 L1455.8,1165.8 L1460.0,1161.5 L1462.5,1159.6 L1465.9,1156.3 L1468.0,1154.0 L1469.3,1152.7 L1472.6,1149.9 L1476.0,1145.0 L1479.4,1140.2 L1482.0,1135.7 L1486.1,1128.4 L1487.7,1126.5 L1489.5,1121.5 L1493.0,1116.6 L1496.2,1109.3 L1499.0,1101.8 L1503.0,1087.2 L1505.5,1080.3 L1507.3,1075.2 L1509.5,1081.5 L1512.0,1094.5 L1515.0,1110.1 L1516.4,1118.0 L1518.0,1128.7 L1520.5,1145.3 L1524.0,1162.2 L1527.0,1174.7 L1531.0,1185.4 L1533.3,1189.0 L1537.0,1190.3 L1540.0,1193.1 L1543.4,1192.0 L1546.8,1194.2 L1550.0,1192.2 L1553.5,1193.6 L1556.9,1192.5 L1560.2,1192.5 L1563.6,1193.7 L1567.0,1194.2 L1570.3,1193.0 L1573.7,1194.8 L1577.1,1193.5 L1580.5,1194.3 L1583.8,1194.6 L1587.2,1194.8 L1590.6,1193.2 L1593.9,1195.7 L1597.3,1195.1 L1600.7,1194.5 L1604.0,1194.1 L1607.4,1193.7 L1610.8,1194.0 L1614.1,1195.4 L1617.5,1194.9 L1620.9,1194.4 L1624.3,1194.8 L1627.6,1196.3 L1631.0,1195.1 L1634.4,1194.9 L1637.7,1196.3 L1641.1,1195.7 L1644.5,1195.5 L1647.8,1195.0 L1651.2,1194.4 L1654.6,1194.7 L1657.9,1195.2 L1661.3,1195.3 L1664.7,1195.7 L1667.5,1195.9" fill="none" stroke="#EF4141" stroke-width="7.8" stroke-linejoin="round" stroke-linecap="butt" shape-rendering="crispEdges"/>
<path d="M152.0,1196.7 L155.4,1196.7 L158.7,1195.8 L162.1,1195.0 L165.5,1196.1 L168.8,1195.8 L172.2,1196.0 L175.6,1196.3 L179.0,1195.6 L182.3,1195.7 L185.7,1196.4 L189.1,1196.6 L192.4,1196.0 L195.8,1196.8 L199.2,1196.3 L202.5,1195.8 L205.9,1196.5 L209.3,1197.8 L212.6,1196.0 L216.0,1197.3 L219.4,1197.5 L222.7,1197.5 L226.1,1195.9 L229.5,1197.9 L232.9,1196.6 L236.2,1196.3 L239.6,1196.3 L243.0,1196.9 L246.3,1196.5 L249.7,1196.4 L253.1,1197.4 L256.4,1196.0 L259.8,1195.8 L263.2,1197.1 L266.5,1197.0 L269.9,1197.3 L273.3,1195.7 L276.7,1197.3 L280.0,1196.8 L283.4,1197.7 L286.8,1195.6 L290.1,1196.7 L293.5,1196.3 L296.9,1195.4 L300.2,1196.0 L303.6,1197.3 L307.0,1196.2 L310.3,1196.0 L313.7,1197.1 L317.1,1197.2 L320.4,1197.2 L323.8,1195.9 L327.2,1196.5 L330.6,1197.2 L333.9,1196.0 L337.3,1196.0 L340.7,1197.1 L344.0,1197.6 L347.4,1195.7 L350.8,1194.7 L354.1,1195.5 L357.5,1195.8 L360.9,1196.4 L364.2,1196.9 L367.6,1196.4 L371.0,1196.0 L374.4,1196.6 L377.7,1195.8 L381.1,1196.5 L384.5,1196.1 L387.8,1198.4 L391.2,1197.1 L394.6,1195.9 L397.9,1195.8 L401.3,1196.2 L404.7,1195.3 L408.0,1196.0 L411.4,1196.0 L414.8,1197.1 L418.2,1196.2 L421.5,1195.9 L424.9,1195.6 L428.3,1195.7 L431.6,1196.5 L435.0,1196.3 L438.4,1197.3 L441.7,1196.1 L445.1,1197.2 L448.5,1196.7 L451.8,1196.5 L455.2,1195.1 L458.6,1195.6 L461.9,1197.0 L465.3,1197.5 L468.7,1196.6 L472.1,1197.0 L475.4,1196.2 L478.8,1196.2 L482.2,1196.0 L485.5,1197.2 L488.9,1196.7 L492.3,1196.3 L495.6,1196.3 L500.0,1196.9 L502.4,1196.7 L505.7,1195.9 L509.1,1197.7 L512.5,1196.7 L515.9,1196.5 L519.2,1197.5 L522.6,1197.2 L526.0,1196.4 L529.3,1196.9 L532.7,1195.7 L536.1,1196.0 L539.4,1194.9 L542.8,1197.4 L546.2,1195.2 L549.5,1197.0 L552.9,1195.9 L556.3,1195.8 L559.6,1196.4 L563.0,1196.7 L566.4,1196.9 L569.8,1197.7 L573.1,1196.7 L576.5,1197.1 L579.9,1196.1 L583.2,1197.0 L586.6,1196.6 L590.0,1196.2 L593.3,1196.4 L596.7,1196.4 L600.1,1196.6 L603.4,1196.8 L606.8,1196.1 L610.2,1196.0 L613.6,1197.0 L616.9,1195.3 L620.3,1196.0 L623.7,1197.6 L627.0,1194.6 L630.4,1196.0 L633.8,1196.9 L637.1,1195.3 L640.5,1198.3 L643.9,1194.6 L647.2,1197.5 L650.6,1197.5 L654.0,1197.1 L657.3,1196.3 L660.7,1196.7 L664.1,1195.8 L667.5,1197.0 L670.8,1195.6 L674.2,1196.2 L677.6,1197.1 L680.9,1195.6 L684.3,1196.2 L687.7,1196.5 L691.0,1195.5 L694.4,1197.2 L697.8,1196.6 L701.1,1195.3 L704.5,1196.4 L707.9,1195.8 L711.3,1195.9 L714.6,1196.4 L718.0,1195.9 L721.4,1197.0 L724.7,1195.9 L728.1,1197.1 L731.5,1196.3 L734.8,1197.0 L738.2,1196.0 L741.6,1196.0 L744.9,1195.5 L748.3,1196.7 L751.7,1197.0 L755.1,1197.8 L758.4,1197.2 L761.8,1196.5 L765.2,1196.2 L768.5,1196.6 L771.9,1196.3 L775.3,1197.3 L778.6,1196.9 L782.0,1195.7 L785.4,1195.8 L788.7,1197.2 L792.1,1196.5 L795.5,1196.1 L798.8,1197.1 L802.2,1196.0 L805.6,1196.0 L809.0,1195.9 L812.3,1194.8 L815.7,1196.8 L819.1,1195.4 L822.4,1195.8 L825.8,1195.7 L829.2,1196.7 L832.5,1196.1 L835.9,1196.2 L839.3,1195.0 L842.6,1196.1 L846.0,1195.1 L849.4,1196.4 L852.8,1196.4 L856.1,1196.1 L859.5,1197.5 L862.9,1196.5 L866.2,1196.5 L869.6,1196.2 L873.0,1195.9 L876.3,1196.7 L879.7,1196.8 L883.1,1195.1 L886.4,1196.8 L889.8,1196.4 L893.2,1196.7 L896.5,1196.3 L900.0,1195.1 L903.3,1195.2 L906.7,1197.2 L910.0,1196.1 L913.4,1194.9 L916.8,1196.0 L920.1,1195.5 L923.5,1194.3 L926.9,1193.9 L930.2,1194.3 L933.6,1195.6 L937.0,1195.2 L940.3,1195.0 L943.7,1195.3 L947.1,1195.5 L950.5,1193.5 L953.8,1194.7 L957.2,1194.3 L960.0,1193.9 L963.9,1194.4 L967.3,1194.6 L970.7,1194.5 L974.0,1193.7 L977.4,1194.3 L980.8,1196.0 L984.1,1193.9 L987.5,1193.4 L990.9,1194.8 L994.2,1195.0 L997.6,1194.9 L1001.0,1193.8 L1004.4,1195.2 L1007.7,1194.0 L1011.1,1193.7 L1014.5,1194.1 L1017.8,1194.4 L1021.2,1195.0 L1024.6,1194.9 L1027.9,1194.4 L1031.3,1195.1 L1034.7,1194.4 L1038.0,1195.0 L1041.4,1193.3 L1044.8,1193.2 L1048.2,1194.8 L1051.5,1193.2 L1054.9,1193.9 L1058.3,1194.0 L1060.0,1193.7 L1061.6,1193.3 L1066.0,1191.0 L1069.0,1183.2 L1072.0,1173.6 L1075.0,1160.6 L1078.5,1148.0 L1082.0,1134.0 L1085.4,1119.5 L1088.2,1102.3 L1090.5,1093.7 L1092.5,1101.1 L1094.5,1121.9 L1097.0,1143.4 L1099.0,1150.1 L1101.0,1145.5 L1103.0,1132.7 L1105.0,1118.0 L1107.0,1099.5 L1109.0,1082.5 L1111.0,1065.9 L1114.0,1035.9 L1115.5,1023.8 L1117.0,1017.1 L1120.0,1003.9 L1122.3,999.1 L1124.0,998.8 L1125.6,995.5 L1128.0,994.4 L1131.0,993.0 L1132.4,994.3 L1134.0,997.1 L1135.7,1002.0 L1137.5,1010.0 L1139.1,1020.7 L1141.0,1028.4 L1142.5,1036.8 L1145.0,1043.8 L1148.5,1034.3 L1151.0,1026.0 L1153.5,1026.0 L1156.0,1027.7 L1159.0,1046.5 L1162.0,1068.4 L1165.0,1090.1 L1168.0,1107.3 L1169.4,1114.0 L1171.0,1120.8 L1174.0,1131.3 L1176.5,1136.1 L1179.0,1132.1 L1181.5,1118.9 L1184.0,1095.6 L1186.5,1061.3 L1188.5,1029.6 L1190.5,995.2 L1193.0,879.6 L1196.0,739.7 L1199.0,619.3 L1202.0,529.8 L1204.0,500.3 L1206.0,490.2 L1208.0,497.0 L1210.0,514.5 L1212.5,525.9 L1215.0,538.2 L1217.0,560.7 L1219.5,585.3 L1222.0,606.7 L1223.3,614.9 L1225.0,629.9 L1227.6,662.1 L1231.0,699.3 L1233.4,719.0 L1234.7,734.3 L1237.0,767.8 L1240.0,804.1 L1243.0,838.2 L1245.3,874.1 L1246.9,894.1 L1249.0,920.5 L1250.3,938.9 L1253.0,979.2 L1256.0,1020.7 L1259.0,1050.5 L1260.4,1074.4 L1262.0,1100.7 L1263.8,1115.5 L1265.5,1125.0 L1267.1,1131.8 L1269.5,1140.5 L1275.0,1157.9 L1277.2,1162.2 L1280.6,1167.9 L1282.0,1169.7 L1284.0,1173.3 L1288.0,1178.0 L1290.7,1178.3 L1294.1,1178.4 L1296.0,1180.5 L1297.5,1179.0 L1300.8,1177.4 L1303.0,1176.1 L1307.6,1174.7 L1310.0,1174.5 L1314.3,1171.7 L1318.0,1167.8 L1321.0,1164.2 L1325.5,1158.8 L1327.8,1157.2 L1332.0,1157.9 L1334.5,1157.3 L1338.0,1158.7 L1341.3,1157.1 L1344.0,1158.4 L1348.0,1160.6 L1352.0,1162.8 L1354.7,1165.0 L1357.0,1168.3 L1362.0,1178.1 L1364.8,1182.1 L1368.0,1184.9 L1371.6,1188.0 L1374.9,1189.6 L1378.3,1190.4 L1380.0,1190.5 L1381.7,1190.6 L1385.1,1191.7 L1388.4,1192.4 L1391.8,1192.2 L1395.2,1192.7 L1398.5,1192.3 L1400.0,1191.5 L1401.9,1191.8 L1405.3,1192.9 L1408.6,1192.4 L1412.0,1192.9 L1415.4,1191.4 L1418.7,1191.5 L1422.1,1191.3 L1424.0,1190.7 L1425.5,1189.2 L1428.9,1188.4 L1432.0,1187.1 L1435.6,1183.2 L1440.0,1179.3 L1442.3,1177.6 L1445.7,1173.5 L1447.3,1173.4 L1449.1,1169.1 L1452.4,1162.9 L1454.2,1159.8 L1455.8,1157.2 L1460.0,1152.3 L1462.5,1148.2 L1464.6,1146.2 L1465.9,1143.5 L1469.3,1138.5 L1472.0,1133.8 L1476.0,1126.7 L1479.6,1121.9 L1482.8,1116.4 L1487.0,1110.7 L1489.5,1105.4 L1492.9,1099.8 L1494.6,1095.1 L1496.2,1090.4 L1499.0,1081.2 L1502.0,1073.1 L1504.0,1070.5 L1507.0,1072.6 L1510.0,1081.5 L1513.0,1095.3 L1516.0,1111.8 L1519.0,1127.9 L1522.0,1145.8 L1525.5,1161.5 L1529.0,1176.0 L1533.0,1187.8 L1536.7,1190.0 L1539.0,1191.2 L1543.4,1193.4 L1546.8,1194.5 L1550.0,1192.4 L1553.5,1193.9 L1556.9,1193.8 L1560.2,1193.7 L1563.6,1193.9 L1567.0,1193.7 L1570.3,1195.0 L1573.7,1194.4 L1577.1,1194.4 L1580.5,1195.1 L1583.8,1195.0 L1587.2,1194.8 L1590.6,1194.8 L1593.9,1195.9 L1597.3,1195.1 L1600.7,1194.7 L1604.0,1194.3 L1607.4,1194.7 L1610.8,1194.3 L1614.1,1195.1 L1617.5,1195.3 L1620.9,1193.7 L1624.3,1195.2 L1627.6,1195.7 L1631.0,1195.4 L1634.4,1194.7 L1637.7,1196.3 L1641.1,1194.9 L1644.5,1194.6 L1647.8,1194.7 L1651.2,1195.5 L1654.6,1196.2 L1657.9,1196.3 L1661.3,1195.6 L1664.7,1194.7 L1667.5,1195.0" fill="none" stroke="#1B6EE0" stroke-width="7.8" stroke-linejoin="round" stroke-linecap="butt" shape-rendering="crispEdges"/>
<path d="M152.0,1195.0 L155.4,1195.5 L158.7,1194.4 L162.1,1195.7 L165.5,1196.1 L168.8,1195.5 L172.2,1195.9 L175.6,1194.9 L179.0,1194.6 L182.3,1195.2 L185.7,1196.4 L189.1,1196.3 L192.4,1195.3 L195.8,1196.4 L199.2,1195.4 L202.5,1196.7 L205.9,1195.9 L209.3,1195.3 L212.6,1196.2 L216.0,1195.1 L219.4,1194.9 L222.7,1194.6 L226.1,1195.8 L229.5,1195.6 L232.9,1195.5 L236.2,1195.3 L239.6,1196.6 L243.0,1195.3 L246.3,1195.1 L249.7,1196.5 L253.1,1196.6 L256.4,1195.8 L259.8,1194.4 L263.2,1195.2 L266.5,1196.0 L269.9,1195.6 L273.3,1196.7 L276.7,1194.6 L280.0,1196.1 L283.4,1195.2 L286.8,1196.5 L290.1,1195.5 L293.5,1196.3 L296.9,1195.1 L300.2,1194.6 L303.6,1194.8 L307.0,1195.2 L310.3,1194.9 L313.7,1196.4 L317.1,1196.5 L320.4,1195.8 L323.8,1194.9 L327.2,1195.5 L330.6,1195.1 L333.9,1196.6 L337.3,1195.8 L340.7,1195.9 L344.0,1195.3 L347.4,1194.2 L350.8,1195.1 L354.1,1194.8 L357.5,1195.9 L360.9,1195.7 L364.2,1195.0 L367.6,1195.3 L371.0,1196.7 L374.4,1194.9 L377.7,1195.0 L381.1,1195.4 L384.5,1195.1 L387.8,1195.3 L391.2,1196.0 L394.6,1196.8 L397.9,1194.4 L401.3,1195.6 L404.7,1195.6 L408.0,1195.5 L411.4,1195.5 L414.8,1195.4 L418.2,1196.3 L421.5,1195.3 L424.9,1195.5 L428.3,1195.6 L431.6,1195.7 L435.0,1195.5 L438.4,1196.3 L441.7,1195.6 L445.1,1195.7 L448.5,1195.6 L451.8,1194.9 L455.2,1195.0 L458.6,1194.9 L461.9,1195.7 L465.3,1195.1 L468.7,1194.9 L472.1,1195.8 L475.4,1196.0 L478.8,1194.4 L482.2,1196.8 L485.5,1195.6 L488.9,1195.5 L492.3,1196.3 L495.6,1195.6 L500.0,1195.2 L502.4,1197.1 L505.7,1194.8 L509.1,1195.5 L512.5,1196.2 L515.9,1194.9 L519.2,1195.5 L522.6,1195.9 L526.0,1197.3 L529.3,1195.0 L532.7,1195.6 L536.1,1196.1 L539.4,1195.7 L542.8,1194.8 L546.2,1195.9 L549.5,1195.7 L552.9,1195.9 L556.3,1196.4 L559.6,1196.3 L563.0,1195.9 L566.4,1195.8 L569.8,1194.8 L573.1,1195.5 L576.5,1195.8 L579.9,1195.3 L583.2,1195.7 L586.6,1195.0 L590.0,1196.7 L593.3,1197.1 L596.7,1195.3 L600.1,1195.9 L603.4,1195.4 L606.8,1196.5 L610.2,1195.9 L613.6,1195.6 L616.9,1195.4 L620.3,1195.7 L623.7,1194.9 L627.0,1196.1 L630.4,1195.1 L633.8,1196.0 L637.1,1195.7 L640.5,1196.4 L643.9,1195.6 L647.2,1196.3 L650.6,1194.9 L654.0,1196.0 L657.3,1195.4 L660.7,1195.7 L664.1,1195.6 L667.5,1196.2 L670.8,1194.2 L674.2,1195.8 L677.6,1194.5 L680.9,1196.4 L684.3,1194.2 L687.7,1194.9 L691.0,1194.4 L694.4,1196.7 L697.8,1194.7 L701.1,1195.6 L704.5,1195.2 L707.9,1194.3 L711.3,1195.3 L714.6,1196.0 L718.0,1195.4 L721.4,1196.2 L724.7,1195.3 L728.1,1195.6 L731.5,1195.3 L734.8,1195.8 L738.2,1196.9 L741.6,1195.8 L744.9,1195.7 L748.3,1195.1 L751.7,1195.0 L755.1,1196.6 L758.4,1194.8 L761.8,1194.9 L765.2,1195.5 L768.5,1195.2 L771.9,1196.9 L775.3,1193.9 L778.6,1195.8 L782.0,1196.0 L785.4,1194.7 L788.7,1195.1 L792.1,1195.8 L795.5,1196.6 L798.8,1194.9 L802.2,1194.4 L805.6,1196.2 L809.0,1196.6 L812.3,1195.3 L815.7,1193.9 L819.1,1196.5 L822.4,1195.3 L825.8,1196.3 L829.2,1195.4 L832.5,1195.2 L835.9,1195.2 L839.3,1196.5 L842.6,1196.5 L846.0,1194.0 L849.4,1194.8 L852.8,1196.7 L856.1,1195.2 L859.5,1194.5 L862.9,1195.4 L866.2,1195.4 L869.6,1195.4 L873.0,1195.1 L876.3,1195.2 L879.7,1195.1 L883.1,1195.7 L886.4,1194.8 L889.8,1195.2 L893.2,1195.3 L896.5,1196.3 L900.0,1195.7 L903.3,1195.3 L906.7,1195.7 L910.0,1195.6 L913.4,1196.1 L916.8,1195.6 L920.1,1196.5 L923.5,1196.1 L926.9,1195.1 L930.2,1194.7 L933.6,1195.6 L937.0,1195.2 L940.3,1194.7 L943.7,1193.7 L947.1,1193.4 L950.5,1194.8 L953.8,1195.1 L957.2,1195.0 L960.0,1193.5 L963.9,1195.1 L967.3,1193.9 L970.7,1194.5 L974.0,1194.5 L977.4,1193.6 L980.8,1193.7 L984.1,1192.6 L987.5,1193.4 L990.9,1192.8 L994.2,1194.3 L997.6,1194.0 L1001.0,1194.6 L1004.4,1194.2 L1007.7,1193.4 L1011.1,1194.1 L1014.5,1193.5 L1017.8,1194.2 L1021.2,1193.9 L1024.6,1193.0 L1027.9,1193.6 L1031.3,1193.6 L1034.7,1193.2 L1038.0,1194.0 L1041.4,1194.4 L1044.8,1192.9 L1048.2,1192.8 L1051.5,1191.3 L1054.9,1192.7 L1058.3,1192.3 L1060.0,1191.0 L1061.6,1192.3 L1066.0,1189.4 L1069.0,1183.5 L1072.0,1171.7 L1075.0,1157.3 L1078.5,1146.5 L1082.0,1130.9 L1085.4,1116.8 L1088.2,1100.4 L1090.5,1092.5 L1092.5,1099.3 L1094.5,1117.9 L1096.5,1134.2 L1098.5,1143.0 L1101.0,1138.3 L1103.0,1124.3 L1105.0,1112.2 L1107.0,1095.9 L1109.0,1077.7 L1111.0,1058.9 L1114.0,1024.3 L1115.5,1009.7 L1117.0,1000.7 L1120.0,986.4 L1123.0,981.5 L1126.0,979.4 L1129.0,975.2 L1133.0,970.1 L1136.0,970.6 L1138.5,974.4 L1141.0,987.1 L1143.5,1005.5 L1146.0,1027.2 L1148.5,1021.3 L1151.0,1008.5 L1153.5,1004.8 L1156.0,1005.6 L1158.5,1012.8 L1161.5,1039.7 L1164.5,1061.5 L1166.1,1072.7 L1167.5,1081.0 L1170.5,1098.1 L1173.5,1112.3 L1176.0,1122.6 L1178.5,1121.1 L1181.0,1107.3 L1183.5,1084.1 L1186.0,1051.8 L1188.5,1018.8 L1190.5,980.1 L1192.5,901.0 L1194.0,829.9 L1195.5,759.8 L1197.0,679.0 L1198.5,599.6 L1199.8,541.0 L1200.5,500.2 L1201.5,462.5 L1202.5,440.5 L1203.5,426.0 L1206.5,422.9 L1209.5,426.1 L1211.5,440.5 L1213.5,462.3 L1215.5,485.3 L1217.5,500.1 L1220.5,519.5 L1222.5,539.8 L1224.5,564.3 L1227.0,594.7 L1230.0,610.5 L1232.0,634.8 L1233.4,652.1 L1236.0,679.8 L1238.0,714.2 L1241.0,750.0 L1243.5,800.9 L1246.0,824.9 L1248.8,840.4 L1250.5,868.1 L1252.0,897.7 L1254.4,914.2 L1257.0,955.0 L1259.5,1002.6 L1261.5,1049.7 L1263.0,1078.3 L1264.6,1100.3 L1268.0,1125.5 L1270.5,1135.0 L1272.7,1140.5 L1278.0,1155.4 L1280.6,1159.4 L1285.0,1165.8 L1287.4,1167.9 L1290.7,1172.2 L1292.0,1173.5 L1294.1,1176.2 L1298.0,1179.0 L1300.8,1182.2 L1303.0,1183.1 L1307.6,1180.3 L1309.0,1179.6 L1310.9,1176.8 L1314.0,1172.1 L1318.0,1162.6 L1322.0,1159.8 L1324.4,1156.9 L1326.5,1156.1 L1327.8,1155.9 L1331.1,1151.9 L1332.5,1151.4 L1334.5,1149.1 L1337.0,1149.6 L1340.6,1147.9 L1344.5,1148.8 L1348.7,1149.4 L1351.4,1151.4 L1355.8,1157.2 L1358.1,1159.5 L1360.8,1164.2 L1365.8,1174.7 L1368.2,1177.8 L1371.0,1183.1 L1376.0,1186.6 L1378.3,1187.8 L1381.7,1187.8 L1383.0,1188.9 L1385.1,1188.4 L1388.4,1190.1 L1391.0,1190.5 L1395.2,1190.5 L1398.5,1190.3 L1401.0,1190.4 L1405.3,1188.0 L1408.6,1190.4 L1411.0,1189.5 L1415.4,1188.3 L1418.7,1186.3 L1421.0,1184.6 L1425.5,1184.4 L1428.9,1184.7 L1431.0,1184.6 L1432.2,1182.5 L1436.0,1178.4 L1439.5,1174.0 L1443.0,1164.4 L1446.0,1159.5 L1449.1,1152.9 L1451.0,1149.4 L1452.4,1148.5 L1456.0,1144.2 L1459.2,1138.8 L1461.0,1139.1 L1462.5,1136.1 L1465.0,1135.0 L1469.3,1131.8 L1471.0,1129.9 L1472.6,1129.2 L1475.0,1124.6 L1478.0,1115.5 L1479.4,1114.1 L1482.0,1112.0 L1486.0,1105.8 L1489.0,1096.6 L1491.5,1088.8 L1494.0,1075.4 L1496.0,1063.8 L1498.5,1052.2 L1502.0,1048.6 L1505.0,1046.7 L1506.3,1049.3 L1508.0,1050.5 L1509.7,1054.2 L1511.0,1059.4 L1513.7,1068.1 L1516.5,1080.6 L1519.4,1093.3 L1521.5,1112.0 L1523.0,1128.4 L1527.5,1144.2 L1531.0,1162.0 L1534.4,1177.7 L1536.7,1182.4 L1538.0,1184.3 L1540.0,1185.5 L1542.0,1187.1 L1543.4,1188.2 L1546.8,1189.9 L1550.0,1189.4 L1553.5,1189.8 L1556.9,1191.9 L1560.0,1190.8 L1563.6,1192.7 L1567.0,1192.4 L1570.0,1193.1 L1573.7,1193.9 L1577.1,1193.3 L1580.5,1193.5 L1583.8,1192.5 L1587.2,1192.8 L1590.6,1193.8 L1593.9,1194.5 L1597.3,1194.4 L1600.0,1195.1 L1604.0,1193.8 L1607.4,1193.7 L1610.8,1194.3 L1614.1,1193.6 L1617.5,1193.6 L1620.9,1192.9 L1624.3,1194.4 L1627.6,1192.9 L1631.0,1194.1 L1634.4,1192.7 L1637.7,1194.5 L1641.1,1193.0 L1644.5,1194.4 L1647.8,1192.7 L1651.2,1193.5 L1654.6,1194.6 L1657.9,1193.2 L1661.3,1193.8 L1664.7,1193.5 L1667.5,1192.2" fill="none" stroke="#3AAD6B" stroke-width="7.8" stroke-linejoin="round" stroke-linecap="butt" shape-rendering="crispEdges"/>
</g>
<rect x="147.30" y="17.90" width="8.30" height="1248.90" fill="#000"/>
<rect x="125.30" y="17.90" width="1546.70" height="8.30" fill="#000"/>
<rect x="1663.30" y="17.90" width="8.70" height="1236.90" fill="#000"/>
<rect x="147.30" y="1240.10" width="1524.70" height="8.10" fill="#000"/>
<rect x="125.30" y="1193.35" width="22.50" height="8.30" fill="#000"/>
<rect x="138.80" y="1075.80" width="9.00" height="8.30" fill="#000"/>
<rect x="125.30" y="958.26" width="22.50" height="8.30" fill="#000"/>
<rect x="138.80" y="840.72" width="9.00" height="8.30" fill="#000"/>
<rect x="125.30" y="723.17" width="22.50" height="8.30" fill="#000"/>
<rect x="138.80" y="605.62" width="9.00" height="8.30" fill="#000"/>
<rect x="125.30" y="488.08" width="22.50" height="8.30" fill="#000"/>
<rect x="138.80" y="370.54" width="9.00" height="8.30" fill="#000"/>
<rect x="125.30" y="252.99" width="22.50" height="8.30" fill="#000"/>
<rect x="138.80" y="135.44" width="9.00" height="8.30" fill="#000"/>
<rect x="484.38" y="1247.70" width="8.00" height="19.10" fill="#000"/>
<rect x="821.32" y="1247.70" width="8.00" height="19.10" fill="#000"/>
<rect x="1158.25" y="1247.70" width="8.00" height="19.10" fill="#000"/>
<rect x="1495.18" y="1247.70" width="8.00" height="19.10" fill="#000"/>
<rect x="315.92" y="1247.70" width="8.00" height="7.20" fill="#000"/>
<rect x="652.85" y="1247.70" width="8.00" height="7.20" fill="#000"/>
<rect x="989.78" y="1247.70" width="8.00" height="7.20" fill="#000"/>
<rect x="1326.72" y="1247.70" width="8.00" height="7.20" fill="#000"/>
<g font-family='"Liberation Serif", "Times New Roman", serif' fill="#000" style="font-kerning:none">
<text x="84.28" y="1349.48" font-size="84.32" textLength="132.17" lengthAdjust="spacing">300</text>
<text x="421.58" y="1349.48" font-size="84.32" textLength="131.76" lengthAdjust="spacing">400</text>
<text x="757.14" y="1349.48" font-size="84.32" textLength="133.14" lengthAdjust="spacing">500</text>
<text x="1096.77" y="1349.48" font-size="84.32" textLength="130.24" lengthAdjust="spacing">600</text>
<text x="1431.33" y="1349.48" font-size="84.32" textLength="131.41" lengthAdjust="spacing">700</text>
<text x="561.50" y="1434.32" font-size="104.94" textLength="727.25" lengthAdjust="spacing">Wavelength (nm)</text>
<text transform="translate(90.20,943.90) rotate(-90)" x="-3.75" y="0" font-size="105.07" textLength="607.81" lengthAdjust="spacing">Intensity (a.u.)</text>
<text x="358.40" y="113.40" font-size="79.26" textLength="161.34" lengthAdjust="spacing">BGO</text>
<text x="358.75" y="205.70" font-size="79.26" textLength="344.25" lengthAdjust="spacing">SBAY:2Eu</text>
<text x="358.75" y="298.00" font-size="79.26" textLength="344.25" lengthAdjust="spacing">SBAY:4Eu</text>
<text x="358.75" y="390.30" font-size="79.26" textLength="344.25" lengthAdjust="spacing">SBAY:6Eu</text>
<text x="358.75" y="482.60" font-size="79.26" textLength="344.25" lengthAdjust="spacing">SBAY:8Eu</text>
<text x="789.93" y="155.50" font-size="80.18" textLength="572.43" lengthAdjust="spacing">Max Integral Ratio</text>
<text x="958.26" y="249.18" font-size="78.77" textLength="196.34" lengthAdjust="spacing">22.7%</text>
<text x="1015.06" y="988.50" font-size="47.60" textLength="23.81" lengthAdjust="spacing">7</text>
<text x="1038.26" y="1017.20" font-size="71.40" textLength="37.36" lengthAdjust="spacing">F</text>
<text x="1077.70" y="1034.74" font-size="47.60" textLength="24.89" lengthAdjust="spacing">0</text>
<text x="1085.53" y="869.40" font-size="47.60" textLength="24.80" lengthAdjust="spacing">7</text>
<text x="1108.71" y="898.70" font-size="71.40" textLength="38.38" lengthAdjust="spacing">F</text>
<text x="1150.38" y="916.00" font-size="47.60" textLength="19.46" lengthAdjust="spacing">1</text>
<text x="1159.06" y="320.70" font-size="47.60" textLength="23.81" lengthAdjust="spacing">7</text>
<text x="1182.13" y="349.70" font-size="71.40" textLength="38.04" lengthAdjust="spacing">F</text>
<text x="1221.07" y="368.00" font-size="47.60" textLength="25.32" lengthAdjust="spacing">2</text>
<text x="1294.94" y="1040.70" font-size="47.60" textLength="23.93" lengthAdjust="spacing">7</text>
<text x="1319.00" y="1069.70" font-size="71.40" textLength="38.61" lengthAdjust="spacing">F</text>
<text x="1357.58" y="1087.04" font-size="47.60" textLength="22.15" lengthAdjust="spacing">3</text>
<text x="1462.08" y="946.60" font-size="47.60" textLength="24.43" lengthAdjust="spacing">7</text>
<text x="1485.10" y="975.60" font-size="71.40" textLength="38.61" lengthAdjust="spacing">F</text>
<text x="1524.90" y="994.00" font-size="47.60" textLength="23.02" lengthAdjust="spacing">4</text>
<text x="185.64" y="676.87" font-size="54.60" textLength="26.31" lengthAdjust="spacing">5</text>
<text x="213.08" y="710.24" font-size="80.00" textLength="60.69" lengthAdjust="spacing">D</text>
<text x="270.55" y="732.27" font-size="54.60" textLength="29.49" lengthAdjust="spacing">0</text>
</g>
<line x1="173.3" y1="89.3" x2="342.1" y2="89.3" stroke="#CC9900" stroke-width="8.4" stroke-linecap="round"/>
<line x1="173.3" y1="181.4" x2="342.1" y2="181.4" stroke="#555555" stroke-width="8.4" stroke-linecap="round"/>
<line x1="173.3" y1="273.6" x2="342.1" y2="273.6" stroke="#EF4141" stroke-width="8.4" stroke-linecap="round"/>
<line x1="173.3" y1="366.6" x2="342.1" y2="366.6" stroke="#1B6EE0" stroke-width="8.4" stroke-linecap="round"/>
<line x1="173.3" y1="459.4" x2="342.1" y2="459.4" stroke="#3AAD6B" stroke-width="8.4" stroke-linecap="round"/>
<polygon points="1078.10,1042.10 1086.90,1053.10 1086.90,1041.10 1091.70,1041.10 1091.70,1053.10 1100.50,1042.10 1091.90,1085.80 1090.20,1085.80 1090.20,1093.80 1088.40,1093.80 1088.40,1085.80 1086.70,1085.80" fill="#000"/>
<polygon points="1121.60,915.00 1130.40,926.00 1130.40,914.00 1135.20,914.00 1135.20,926.00 1144.00,915.00 1135.40,958.70 1133.70,958.70 1133.70,966.70 1131.90,966.70 1131.90,958.70 1130.20,958.70" fill="#000"/>
<polygon points="1195.30,369.00 1204.10,380.00 1204.10,368.00 1208.90,368.00 1208.90,380.00 1217.70,369.00 1209.10,412.70 1207.40,412.70 1207.40,420.70 1205.60,420.70 1205.60,412.70 1203.90,412.70" fill="#000"/>
<polygon points="1331.20,1081.90 1340.00,1092.90 1340.00,1080.90 1344.80,1080.90 1344.80,1092.90 1353.60,1081.90 1345.00,1125.60 1343.30,1125.60 1343.30,1133.60 1341.50,1133.60 1341.50,1125.60 1339.80,1125.60" fill="#000"/>
<polygon points="1493.80,988.40 1502.60,999.40 1502.60,987.40 1507.40,987.40 1507.40,999.40 1516.20,988.40 1507.60,1032.10 1505.90,1032.10 1505.90,1040.10 1504.10,1040.10 1504.10,1032.10 1502.40,1032.10" fill="#000"/>
<polygon points="324.00,693.60 335.00,684.80 299.60,684.80 299.60,680.00 335.00,680.00 324.00,671.20 367.70,679.80 367.70,681.50 375.70,681.50 375.70,683.30 367.70,683.30 367.70,685.00" fill="#000"/>
</svg>
</body></html>
